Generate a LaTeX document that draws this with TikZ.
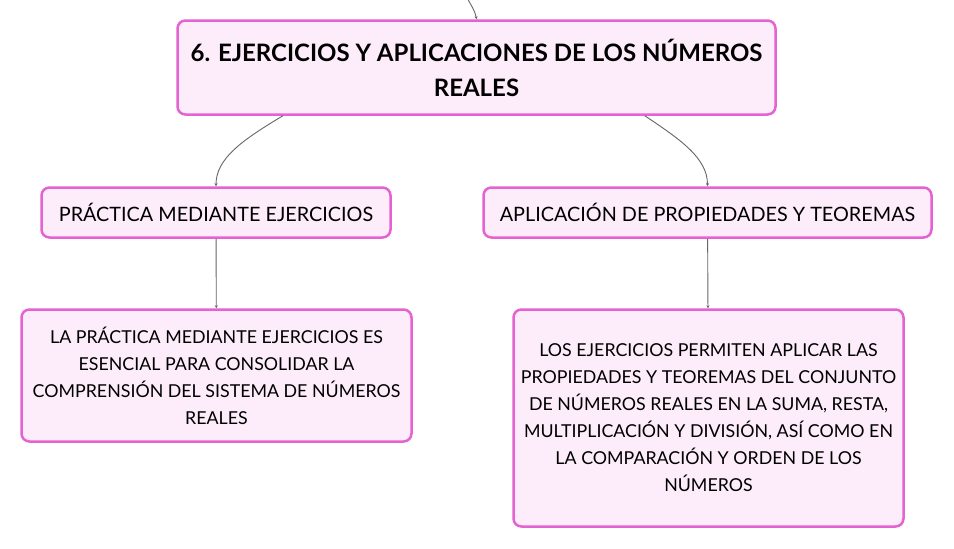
\documentclass[tikz,border=0pt]{standalone}
\usepackage{fontspec}
\setmainfont{Lato}
\usetikzlibrary{arrows.meta}
\definecolor{pinkline}{HTML}{E462D2}
\definecolor{pinkfill}{HTML}{FDEDFA}
\definecolor{linkgray}{HTML}{666666}
\begin{document}
\begin{tikzpicture}[x=1pt,y=-1pt,
    box/.style={draw=pinkline,fill=pinkfill,line width=2.5pt,rounded corners=8pt,align=center,inner sep=0pt},
    link/.style={draw=linkgray,line width=0.9pt,-{Stealth[length=3pt,width=3pt]}}]
    \useasboundingbox[fill=white] (0,0) rectangle (954,549);
    %Boxes%
    \node[box,minimum width=598,minimum height=94,font=\fontsize{24}{35}\selectfont\bfseries] (top) at (476.5,67.5)
        {6. EJERCICIOS Y APLICACIONES DE LOS NÚMEROS\\REALES};
    \node[box,minimum width=349,minimum height=50,font=\fontsize{19.8}{27}\selectfont] (pm) at (216,212.5)
        {PRÁCTICA MEDIANTE EJERCICIOS};
    \node[box,minimum width=448,minimum height=50,font=\fontsize{19.8}{27}\selectfont] (ap) at (707.5,212.5)
        {APLICACIÓN DE PROPIEDADES Y TEOREMAS};
    \node[box,minimum width=390,minimum height=132,font=\fontsize{17.8}{27}\selectfont] (pmtext) at (216.5,375.5)
        {LA PRÁCTICA MEDIANTE EJERCICIOS ES\\ESENCIAL PARA CONSOLIDAR LA\\COMPRENSIÓN DEL SISTEMA DE NÚMEROS\\REALES};
    \node[box,minimum width=390,minimum height=217,font=\fontsize{17.8}{27}\selectfont] (aptext) at (708.5,418)
        {LOS EJERCICIOS PERMITEN APLICAR LAS\\PROPIEDADES Y TEOREMAS DEL CONJUNTO\\DE NÚMEROS REALES EN LA SUMA, RESTA,\\MULTIPLICACIÓN Y DIVISIÓN, ASÍ COMO EN\\LA COMPARACIÓN Y ORDEN DE LOS\\NÚMEROS};

    % Links %
    \coordinate (parent) at (465,-10);
    \draw[link] (parent) to[out=-80,in=100] (top.north);
    \draw[link] (top.194) .. controls +(-40,24) and +(0,-28) .. (pm.north);
    \draw[link] (top.344) .. controls +(36,24) and +(0,-28) .. (ap.north);
    \draw[link] (pm) -- (pmtext);
    \draw[link] (ap) -- (aptext);
\end{tikzpicture}
\end{document}
